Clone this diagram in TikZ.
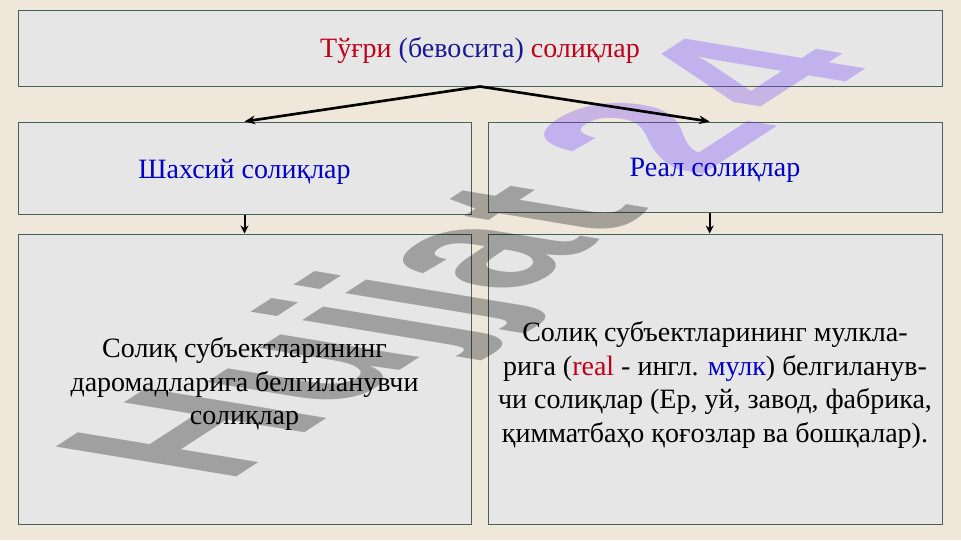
\documentclass[tikz,border=0pt]{standalone}
\usepackage{fontspec}
\setmainfont{Liberation Serif}
\newfontfamily\wmfont{Liberation Sans}
\usetikzlibrary{arrows.meta,fit}
\definecolor{bg}{RGB}{239,231,218}
\definecolor{boxfill}{RGB}{230,230,230}
\definecolor{boxline}{RGB}{70,100,85}
\definecolor{tred}{RGB}{192,0,24}
\definecolor{tblue}{RGB}{0,0,200}
\definecolor{tnavy}{RGB}{25,25,150}
\definecolor{wmpurple}{RGB}{110,60,255}
\begin{document}
\begin{tikzpicture}[x=0.75pt,y=-0.75pt,
  panel/.style={draw=boxline, line width=0.75pt, fill=boxfill, inner sep=0pt},
  lbl/.style={font=\fontsize{21}{25.3}\selectfont, align=center, inner sep=0pt},
  conn/.style={-{Stealth[length=8pt,width=6.5pt]}, line width=2pt},
  sconn/.style={-{Stealth[length=6pt,width=6pt]}, line width=1.5pt}]
\fill[bg] (0,0) rectangle (961,540);
\useasboundingbox (0,0) rectangle (961,540);
% panels
\node[panel, fit={(18,10) (942,86)}] (top) {};
\node[panel, fit={(18,122) (471,214)}] (lmid) {};
\node[panel, fit={(488,122) (942,212)}] (rmid) {};
\node[panel, fit={(18,234) (471,524)}] (lbot) {};
\node[panel, fit={(488,234) (942,524)}] (rbot) {};
% watermark
\begin{scope}[cm={1.1505,0.7455,-1.9695,0.3248,(225.9,483.6)}]
\node[transform shape, anchor=base west, inner sep=0pt, opacity=0.3,
  font=\wmfont\bfseries\fontsize{100}{100}\selectfont] (wm) at (0,0)
  {Hujjat\kern0.3em\textcolor{wmpurple}{2\kern0.08em 4}};
\end{scope}
% texts
\node[lbl] (toptxt) at (480,50) {\textcolor{tred}{Тўғри} \textcolor{tnavy}{(бевосита)} \textcolor{tred}{солиқлар}};
\node[lbl, text=tblue] (lmidtxt) at (244.5,172) {Шахсий солиқлар};
\node[lbl, text=tblue] (rmidtxt) at (715,170) {Реал солиқлар};
\node[lbl] (lbottxt) at (244.5,384) {Солиқ субъектларининг\\даромадларига белгиланувчи\\солиқлар};
\node[lbl] (rbottxt) at (715,385) {Солиқ субъектларининг мулкла-\\рига (\textcolor{tred}{real} - ингл. \textcolor{tblue}{мулк}) белгиланув-\\чи солиқлар (Ер, уй, завод, фабрика,\\қимматбаҳо қоғозлар ва бошқалар).};
% connectors
\draw[conn] (top.south) -- (lmid.north);
\draw[conn] (top.south) -- ([xshift=-4pt]rmid.north);
\draw[sconn] (lmid.south) -- (lbot.north);
\draw[sconn] ([xshift=-4pt]rmid.south) -- ([xshift=-4pt]rbot.north);
\end{tikzpicture}
\end{document}
